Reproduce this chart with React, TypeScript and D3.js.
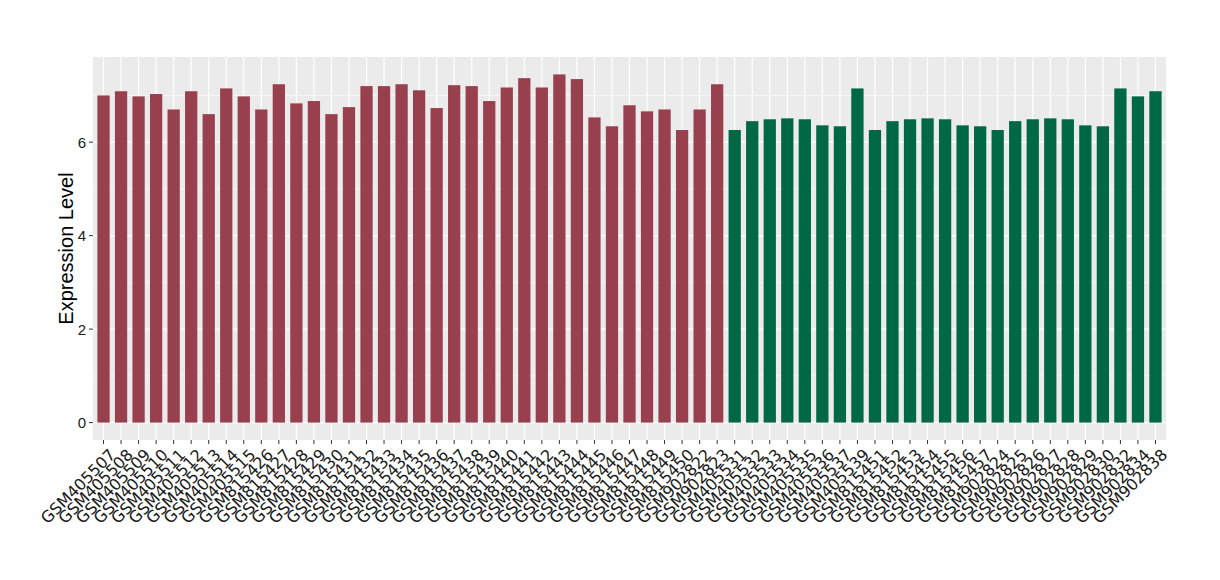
import React from "react";
import * as d3 from "d3";

const groupA = ["GSM405507","GSM405508","GSM405509","GSM405510","GSM405511","GSM405512","GSM405513","GSM405514","GSM405515","GSM815426","GSM815427","GSM815428","GSM815429","GSM815430","GSM815431","GSM815432","GSM815433","GSM815434","GSM815435","GSM815436","GSM815437","GSM815438","GSM815439","GSM815440","GSM815441","GSM815442","GSM815443","GSM815444","GSM815445","GSM815446","GSM815447","GSM815448","GSM815449","GSM815450","GSM902822","GSM902823"];
const valuesA = [7.00,7.09,6.98,7.03,6.70,7.09,6.60,7.15,6.98,6.70,7.24,6.83,6.88,6.60,6.75,7.20,7.20,7.24,7.11,6.73,7.22,7.20,6.88,7.17,7.37,7.17,7.45,7.35,6.53,6.34,6.79,6.66,6.70,6.26,6.70,7.24];
const groupB = ["GSM405531","GSM405532","GSM405533","GSM405534","GSM405535","GSM405536","GSM405537","GSM405539","GSM815451","GSM815452","GSM815453","GSM815454","GSM815455","GSM815456","GSM815457","GSM902824","GSM902825","GSM902826","GSM902827","GSM902828","GSM902829","GSM902830","GSM902832","GSM902834","GSM902838"];
const valuesB = [6.26,6.45,6.49,6.51,6.49,6.36,6.34,7.15,6.26,6.45,6.49,6.51,6.49,6.36,6.34,6.26,6.45,6.49,6.51,6.49,6.36,6.34,7.15,6.98,7.09];
const yTicks = [0, 2, 4, 6];
const yMinor = [1, 3, 5, 7];
const colorA = "#99404F";
const colorB = "#006845";

export default function App() {
  const W = 1220, H = 580;
  const left = 93, right = 1166, top = 57, bottom = 440;
  const data = [
    ...groupA.map((n, i) => ({ name: n, value: valuesA[i], color: colorA })),
    ...groupB.map((n, i) => ({ name: n, value: valuesB[i], color: colorB })),
  ];
  const maxV = d3.max(data, (d) => d.value) as number;
  const pad = maxV * 0.05;
  const y = d3.scaleLinear().domain([-pad, maxV + pad]).range([bottom, top]);
  const n = data.length;
  const step = (right - left) / (n - 1 + 1.2);
  const x = d3.scalePoint<string>().domain(data.map((d) => d.name))
    .range([left + 0.6 * step, right - 0.6 * step]);
  const bw = step * 0.7;
  const font = "'Liberation Sans', Arial, sans-serif";
  return (
    <svg width={W} height={H} style={{ position: "absolute", left: 0, top: 0 }} fontFamily={font}>
      <rect x={0} y={0} width={W} height={H} fill="white" />
      <rect x={left} y={top} width={right - left} height={bottom - top} fill="#EBEBEB" />
      {yMinor.map((t) => (
        <line key={"m" + t} x1={left} x2={right} y1={y(t)} y2={y(t)} stroke="white" strokeWidth={0.6} />
      ))}
      {yTicks.map((t) => (
        <line key={"g" + t} x1={left} x2={right} y1={y(t)} y2={y(t)} stroke="white" strokeWidth={1.2} />
      ))}
      {data.map((d) => (
        <line key={"v" + d.name} x1={x(d.name)} x2={x(d.name)} y1={top} y2={bottom} stroke="white" strokeWidth={1.2} />
      ))}
      {data.map((d) => (
        <rect key={"b" + d.name} x={(x(d.name) as number) - bw / 2} width={bw}
          y={y(Math.max(0, d.value))} height={Math.abs(y(d.value) - y(0))} fill={d.color} />
      ))}
      {yTicks.map((t) => (
        <g key={"t" + t}>
          <line x1={left - 4} x2={left} y1={y(t)} y2={y(t)} stroke="#333" strokeWidth={1} />
          <text x={left - 7} y={y(t)} dy="0.36em" textAnchor="end" fontSize={15} fill="#1a1a1a">{t}</text>
        </g>
      ))}
      {data.map((d) => (
        <g key={"x" + d.name}>
          <line x1={x(d.name)} x2={x(d.name)} y1={bottom} y2={bottom + 4} stroke="#333" strokeWidth={1} />
          <text transform={`translate(${(x(d.name) as number) + 5},${bottom + 8}) rotate(-45)`}
            textAnchor="end" dy="0.7em" fontSize={16} fontFamily="'DejaVu Sans', sans-serif" fill="#1a1a1a">{d.name}</text>
        </g>
      ))}
      <text transform={`translate(73,${(top + bottom) / 2}) rotate(-90)`} textAnchor="middle" fontSize={20} fill="black">Expression Level</text>
    </svg>
  );
}
